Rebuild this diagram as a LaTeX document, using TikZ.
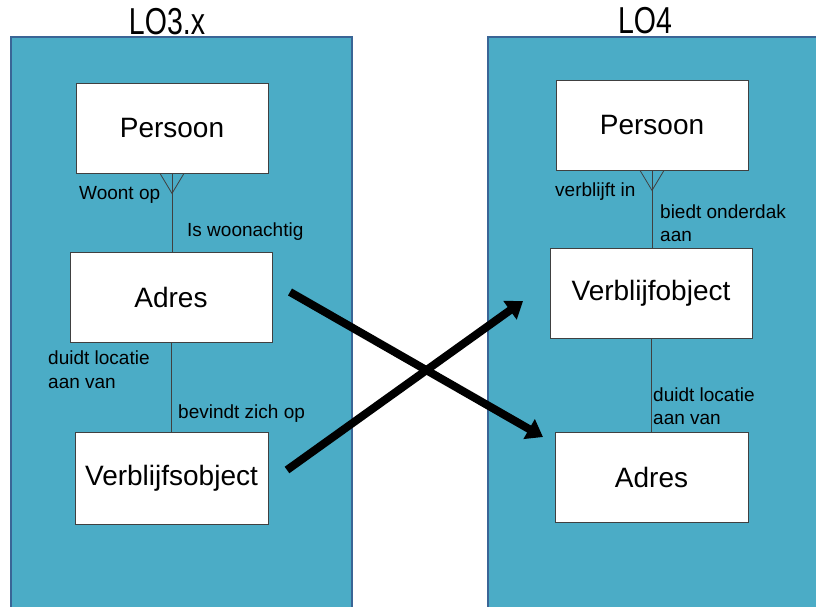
\documentclass[tikz,border=0pt]{standalone}
\usepackage{fontspec}
\setmainfont{Liberation Sans}
\usetikzlibrary{arrows.meta}
\definecolor{panelfill}{HTML}{4BACC6}
\definecolor{paneledge}{HTML}{3A6596}
\definecolor{boxedge}{HTML}{404040}
\tikzset{
  panel/.style={fill=panelfill, draw=paneledge, line width=2.5pt},
  entity/.style={draw=boxedge, fill=white, line width=0.8pt, inner sep=0pt,
    font=\fontsize{28}{33}\selectfont},
  rel/.style={draw=boxedge, line width=0.8pt},
  rlabel/.style={anchor=base west, inner sep=0pt, font=\fontsize{19}{23}\selectfont},
  title/.style={inner sep=0pt, font=\fontsize{30}{34}\selectfont},
  bigarrow/.style={line width=8pt, -{Triangle[length=16pt,width=22pt]}}
}
\begin{document}
\begin{tikzpicture}[x=1pt,y=-1pt]
\useasboundingbox (0,0) rectangle (816,607);
\clip (0,0) rectangle (816,607);
\fill[white] (0,0) rectangle (816,607);
% panels
\draw[panel] (11,37) rectangle (352,630);
\draw[panel] (488,37) rectangle (840,630);
% titles
\node[title] (t1) at (167,22) {\scalebox{0.95}[1.25]{LO3.x}};
\node[title] (t2) at (645,21) {\scalebox{0.95}[1.25]{LO4}};
% left entities
\node[entity, minimum width=192pt, minimum height=90pt] (lp) at (172,128) {Persoon};
\node[entity, minimum width=202pt, minimum height=90pt] (la) at (171,297) {Adres};
\node[entity, minimum width=193pt, minimum height=92pt] (lv) at (171.5,478) {Verblijfsobject};
% right entities
\node[entity, minimum width=192pt, minimum height=90pt] (rp) at (652,125) {Persoon};
\node[entity, minimum width=202pt, minimum height=90pt] (rv) at (651,293) {Verblijfobject};
\node[entity, minimum width=193pt, minimum height=90pt] (ra) at (651.5,477) {Adres};
% left relations
\draw[rel] (lp.south) -- (lp.south |- la.north);
\coordinate (lcf) at ([yshift=-20pt]lp.south);
\draw[rel] ([xshift=-12pt]lp.south) -- (lcf) -- ([xshift=12pt]lp.south);
\draw[rel] (la.south) -- (la.south |- lv.north);
% right relations
\draw[rel] (rp.south) -- (rp.south |- rv.north);
\coordinate (rcf) at ([yshift=-20pt]rp.south);
\draw[rel] ([xshift=-12pt]rp.south) -- (rcf) -- ([xshift=12pt]rp.south);
\draw[rel] (rv.south) -- (rv.south |- ra.north);
% labels
\node[rlabel] (l1) at (79,199) {Woont op};
\node[rlabel] (l2) at (187,236) {Is woonachtig};
\node[rlabel] (l3) at (48,364) {duidt locatie};
\node[rlabel] (l4) at (48,388) {aan van};
\node[rlabel] (l5) at (178,418) {bevindt zich op};
\node[rlabel] (r1) at (555,196) {verblijft in};
\node[rlabel] (r2) at (660,218) {biedt onderdak};
\node[rlabel] (r3) at (660,241) {aan};
\node[rlabel] (r4) at (653,401) {duidt locatie};
\node[rlabel] (r5) at (653,424) {aan van};
% cross arrows
\coordinate (a1s) at (290,292);
\coordinate (a1e) at (543,437);
\coordinate (a2s) at (287,470);
\coordinate (a2e) at (523,301);
\draw[bigarrow] (a1s) -- (a1e);
\draw[bigarrow] (a2s) -- (a2e);
\end{tikzpicture}
\end{document}
